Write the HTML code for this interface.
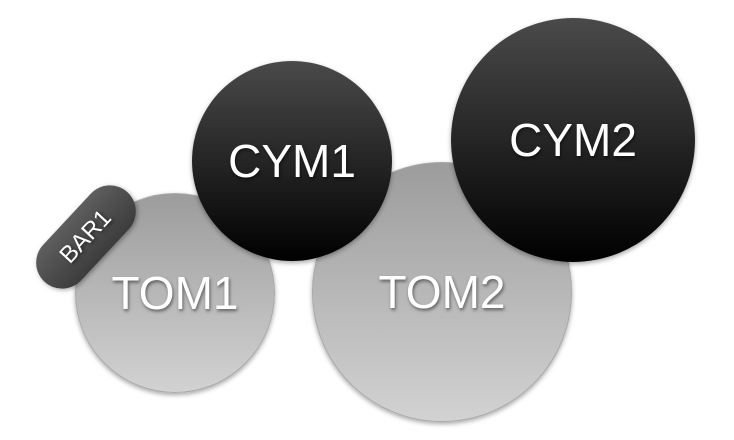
<!DOCTYPE html>
<html><head><style>
html,body{margin:0;padding:0;background:#fff;width:734px;height:440px;overflow:hidden;position:relative;font-family:"Liberation Sans","DejaVu Sans",sans-serif}
.c{position:absolute;border-radius:50%;display:flex;align-items:center;justify-content:center;color:#fff;box-shadow:0 2px 5px rgba(0,0,0,.35);text-shadow:1px 2px 3px rgba(0,0,0,.5)}
.tom{background:linear-gradient(#9c9c9c,#d2d2d2);border:1px solid #a8a8a8;box-sizing:border-box}
.cym{background:linear-gradient(#4a4a4a,#000)}
</style></head><body>
<div class="c tom" style="left:75px;top:193px;width:200px;height:200px;font-size:46px">TOM1</div>
<div class="c tom" style="left:312px;top:162px;width:260px;height:260px;font-size:46px">TOM2</div>
<div class="c cym" style="left:192px;top:61px;width:200px;height:200px;font-size:46px">CYM1</div>
<div class="c cym" style="left:451px;top:18px;width:244px;height:244px;font-size:46px">CYM2</div>
<div class="c" style="left:25px;top:211px;width:122px;height:52px;border-radius:26px;background:linear-gradient(#5e5e5e,#3c3c3c);transform:rotate(-47deg);font-size:24px">BAR1</div>
</body></html>
